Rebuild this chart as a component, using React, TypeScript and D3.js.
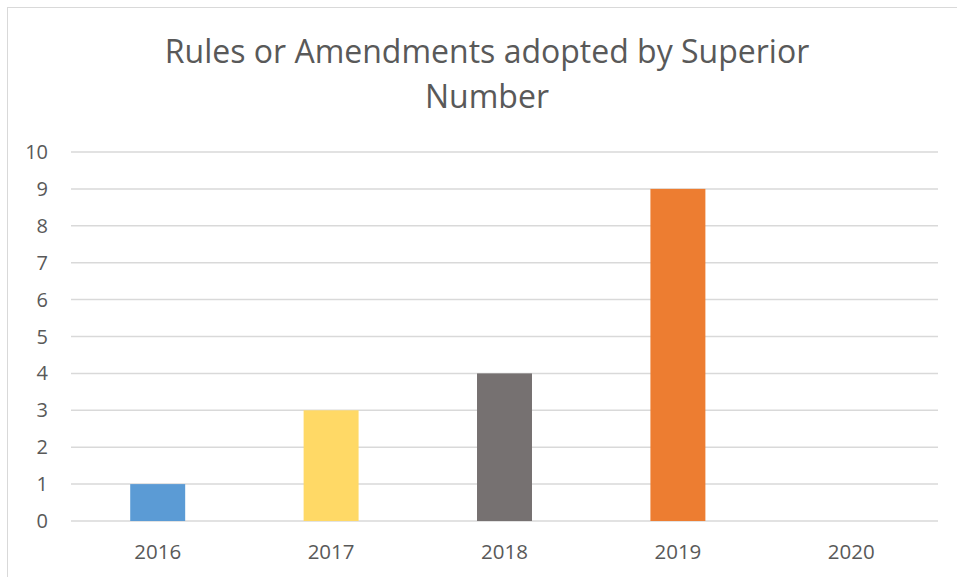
import React from "react";
import * as d3 from "d3";

const categories = ["2016", "2017", "2018", "2019", "2020"];
const values = [1, 3, 4, 9, 0];
const barColors = ["#5B9BD5", "#FFD966", "#767171", "#ED7D31", "#A5A5A5"];
const yTicks = [0, 1, 2, 3, 4, 5, 6, 7, 8, 9, 10];
const titleLines = ["Rules or Amendments adopted by Superior", "Number"];

export default function App() {
  const W = 957, H = 577;
  const left = 71, right = 938, top = 152, bottom = 521;
  const x = d3.scaleBand().domain(categories).range([left, right]).paddingInner(0.683).paddingOuter(0.3415);
  const y = d3.scaleLinear().domain([0, 10]).range([bottom, top]);
  const font = "'Open Sans', sans-serif";
  return (
    <svg width={W} height={H} style={{ position: "absolute", left: 0, top: 0 }}>
      <rect x={0} y={0} width={W} height={H} fill="#fff" />
      <rect x={7.5} y={7.5} width={W} height={H} fill="none" stroke="#d9d9d9" strokeWidth={1} />
      {titleLines.map((t, i) => (
        <text key={i} x={487} y={63 + i * 45} textAnchor="middle" fontFamily={font} fontSize={32} fill="#595959">{t}</text>
      ))}
      {yTicks.map((t) => (
        <g key={t}>
          <line x1={left} x2={right} y1={y(t)} y2={y(t)} stroke="#d9d9d9" strokeWidth={1.5} />
          <text x={48} y={y(t) + 7} textAnchor="end" fontFamily={font} fontSize={20} fill="#595959">{t}</text>
        </g>
      ))}
      {categories.map((c, i) => (
        <g key={c}>
          {values[i] > 0 && (
            <rect x={x(c)} y={y(values[i])} width={x.bandwidth()} height={y(0) - y(values[i])} fill={barColors[i]} />
          )}
          <text x={(x(c) as number) + x.bandwidth() / 2} y={559} textAnchor="middle" fontFamily={font} fontSize={20.5} fill="#595959">{c}</text>
        </g>
      ))}
    </svg>
  );
}
